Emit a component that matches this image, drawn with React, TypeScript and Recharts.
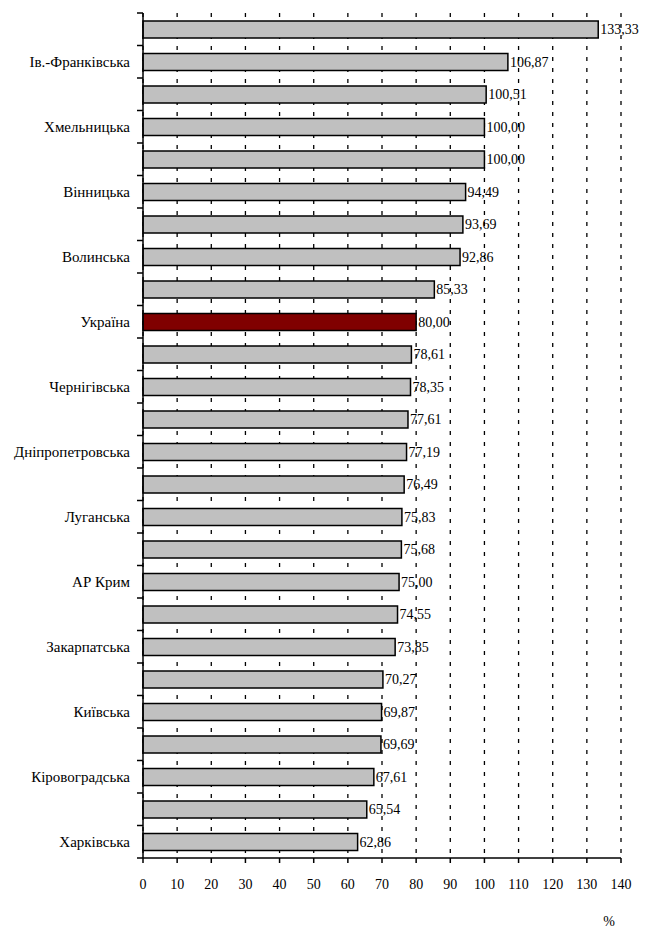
import React from 'react';
import { BarChart, Bar, XAxis, YAxis, CartesianGrid, LabelList, Cell } from 'recharts';

// only every other region name is printed on the original chart
const regions = [
  '', 'Ів.-Франківська', '', 'Хмельницька', '', 'Вінницька', '', 'Волинська', '', 'Україна',
  '', 'Чернігівська', '', 'Дніпропетровська', '', 'Луганська', '', 'АР Крим', '', 'Закарпатська',
  '', 'Київська', '', 'Кіровоградська', '', 'Харківська',
];
const values = [
  133.33, 106.87, 100.51, 100.0, 100.0, 94.49, 93.69, 92.86, 85.33, 80.0,
  78.61, 78.35, 77.61, 77.19, 76.49, 75.83, 75.68, 75.0, 74.55, 73.85,
  70.27, 69.87, 69.69, 67.61, 65.54, 62.86,
];
const xTicks = [0, 10, 20, 30, 40, 50, 60, 70, 80, 90, 100, 110, 120, 130, 140];
const highlight = 'Україна';

const data = regions.map((name, i) => ({ name, value: values[i] }));

const font = "'Liberation Serif', 'DejaVu Serif', serif";
const catStyle = { fontSize: 15, fontFamily: font, fill: '#000' };
const numStyle = { fontSize: 14, fontFamily: font, fill: '#000' };

const fmt = (v: any) => Number(v).toFixed(2).replace('.', ',');

const CatTick = (props: any) => {
  const { x, y, payload, index } = props;
  const half = payload && payload.offset ? payload.offset : 16.25;
  const text = regions[index];
  return (
    <g>
      <line x1={x + 7} x2={x + 13} y1={y - half} y2={y - half} stroke="#000" strokeWidth={1.5} />
      {index === regions.length - 1 && (
        <line x1={x + 7} x2={x + 13} y1={y + half} y2={y + half} stroke="#000" strokeWidth={1.5} />
      )}
      {text && (
        <text x={x} y={y} dy={5} textAnchor="end" fontFamily={font} style={catStyle}>
          {text}
        </text>
      )}
    </g>
  );
};

export default function App() {
  return (
    <div style={{ position: 'absolute', left: 0, top: 0, background: '#fff', fontFamily: font }}>
      <BarChart
        width={648}
        height={930}
        data={data}
        layout="vertical"
        margin={{ top: 13, right: 27, bottom: 0, left: 0 }}
        barSize={17}
        style={{ fontFamily: font }}
      >
        <CartesianGrid horizontal={false} stroke="#000" strokeWidth={1.3} strokeDasharray="4 7" />
        <XAxis
          type="number"
          domain={[0, 140]}
          ticks={xTicks}
          interval={0}
          height={72}
          tickSize={5}
          tickMargin={16}
          axisLine={{ stroke: '#000', strokeWidth: 1.5 }}
          tickLine={{ stroke: '#000', strokeWidth: 1.5 }}
          tick={{ ...numStyle, style: numStyle }}
          label={{ value: '%', position: 'insideBottomRight', offset: 0, dx: -6, dy: -4, style: numStyle }}
        />
        <YAxis
          type="category"
          dataKey="name"
          width={143}
          interval={0}
          tickSize={6}
          tickMargin={7}
          tickLine={false}
          axisLine={{ stroke: '#000', strokeWidth: 1.5 }}
          tick={<CatTick />}
        />
        <Bar dataKey="value" fill="#c0c0c0" stroke="#000" strokeWidth={1.5} isAnimationActive={false}>
          {data.map((d, i) => (
            <Cell key={i} fill={d.name === highlight ? '#800000' : '#c0c0c0'} />
          ))}
          <LabelList
            dataKey="value"
            position="right"
            offset={2}
            formatter={fmt}
            style={numStyle}
          />
        </Bar>
      </BarChart>
    </div>
  );
}
